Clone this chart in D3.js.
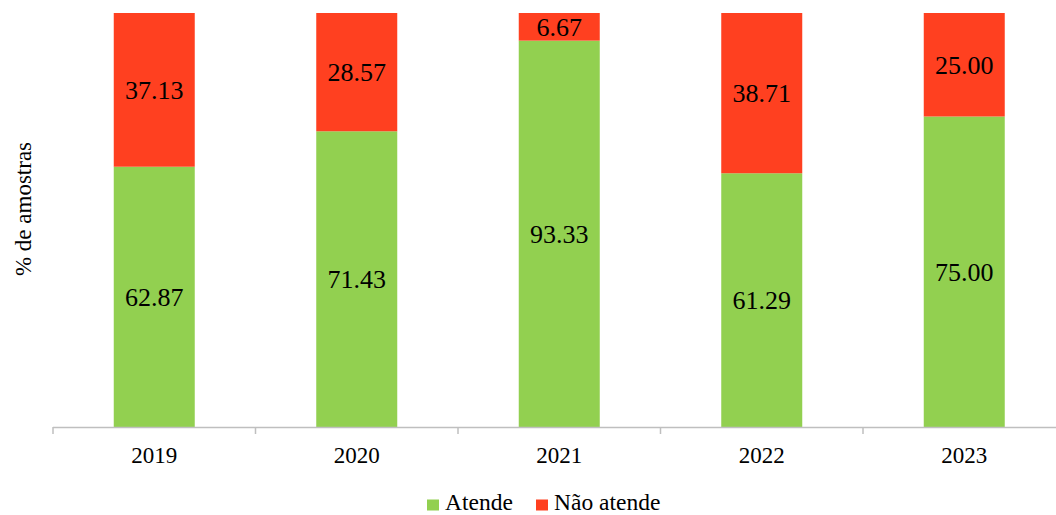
<!DOCTYPE html>
<html><head><meta charset="utf-8">
<script src="https://cdn.jsdelivr.net/npm/d3@7"></script>
<style>body{margin:0;background:#fff}svg{display:block}</style>
</head><body><svg id="c" width="1056" height="515"></svg>
<script>
const years = ["2019","2020","2021","2022","2023"];
const atende = [62.87, 71.43, 93.33, 61.29, 75.00];
const naoAtende = [37.13, 28.57, 6.67, 38.71, 25.00];
const seriesNames = ["Atende","Não atende"];
const colors = ["#92D050","#FF4020"];
const FONT = "Liberation Serif";

const svg = d3.select("#c");
const x = d3.scaleBand().domain(years).range([53, 1065.5]).paddingInner(0.6).paddingOuter(0.3);
const y = d3.scaleLinear().domain([0,100]).range([427,13]);

const rows = years.map((yr,i)=>({year:yr, a:atende[i], n:naoAtende[i]}));
const stack = d3.stack().keys(["a","n"])(rows);

stack.forEach((s,si)=>{
  const g = svg.append("g");
  g.selectAll("rect").data(s).join("rect")
    .attr("x", d=>x(d.data.year)).attr("width", x.bandwidth())
    .attr("y", d=>y(d[1])).attr("height", d=>y(d[0])-y(d[1]))
    .attr("fill", colors[si]);
  g.selectAll("text").data(s).join("text")
    .attr("x", d=>x(d.data.year)+x.bandwidth()/2)
    .attr("y", d=>(y(d[0])+y(d[1]))/2)
    .attr("dy","0.35em").attr("text-anchor","middle")
    .attr("font-family", FONT).attr("font-size", 26)
    .text(d=>(d[1]-d[0]).toFixed(2));
});

// x axis
const ax = svg.append("g");
ax.append("line").attr("x1",53).attr("x2",1056).attr("y1",427.5).attr("y2",427.5).attr("stroke","#BFBFBF").attr("stroke-width",1.5);
const step = x.step();
d3.range(6).forEach(i=>{
  const tx = 53 + i*step;
  ax.append("line").attr("x1",tx).attr("x2",tx).attr("y1",427).attr("y2",434).attr("stroke","#BFBFBF").attr("stroke-width",1.5);
});
ax.selectAll("text.tick").data(years).join("text").attr("class","tick")
  .attr("x", d=>x(d)+x.bandwidth()/2).attr("y",463)
  .attr("text-anchor","middle").attr("font-family", FONT).attr("font-size", 23).text(d=>d);

// y title
svg.append("text").attr("transform","translate(31,209) rotate(-90)")
  .attr("text-anchor","middle").attr("font-family", FONT).attr("font-size", 23).text("% de amostras");

// legend
const leg = [{name:seriesNames[0], c:colors[0], x:427},{name:seriesNames[1], c:colors[1], x:536}];
leg.forEach(l=>{
  svg.append("rect").attr("x",l.x).attr("y",499.5).attr("width",12).attr("height",11).attr("fill",l.c);
  svg.append("text").attr("x",l.x+18).attr("y",509.5).attr("font-family", FONT).attr("font-size", 23.5).text(l.name);
});
</script></body></html>
